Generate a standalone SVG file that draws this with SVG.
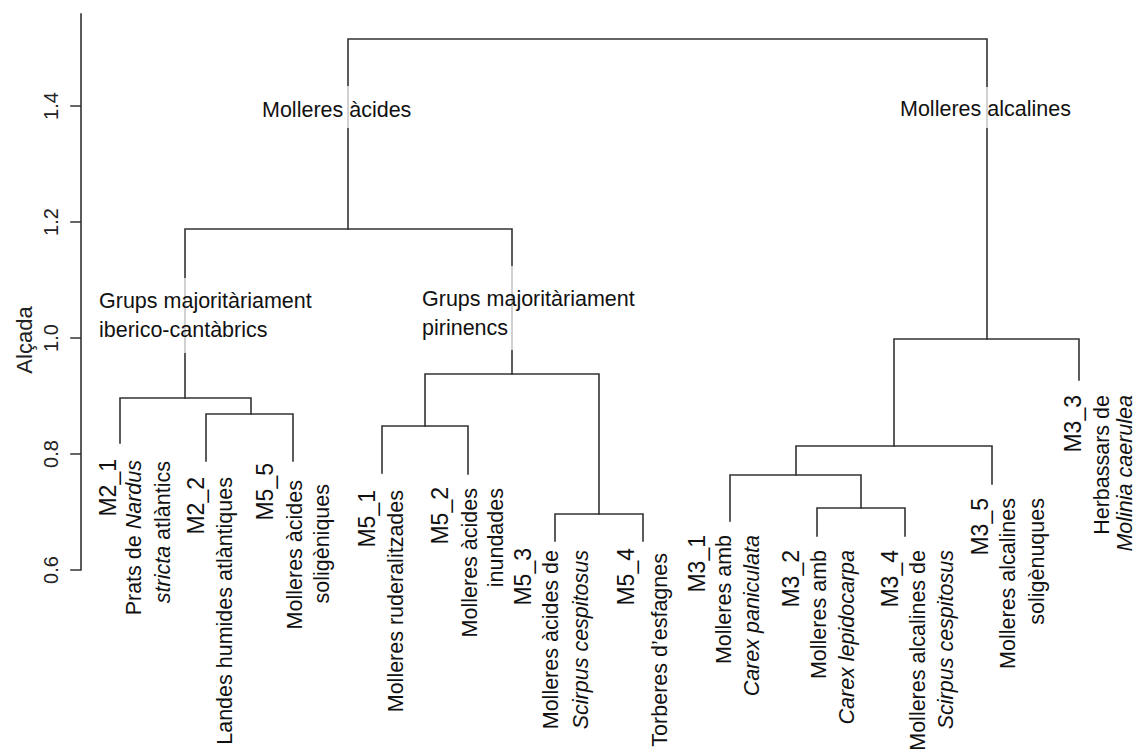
<svg xmlns="http://www.w3.org/2000/svg" width="1138" height="749" viewBox="0 0 1138 749">
<style>
.ln{fill:none;stroke:#333;stroke-width:1.6;stroke-linecap:square}
.ax{font-family:"Liberation Sans",Arial,sans-serif;font-size:20px;fill:#222}
.ylab{font-family:"Liberation Sans",Arial,sans-serif;font-size:22px;fill:#222}
.lab{font-family:"Liberation Sans",Arial,sans-serif;font-size:23px;fill:#111}
.desc{font-family:"Liberation Sans",Arial,sans-serif;font-size:21.5px;fill:#111}
.grp{font-family:"Liberation Sans",Arial,sans-serif;font-size:21.5px;fill:#111}
.bg{fill:#fff;fill-opacity:0.72}
.it{font-style:italic}
</style>
<rect width="1138" height="749" fill="#fff"/>
<g id="axis">
<path class="ln" d="M81,14 V570 M71,570 H81 M71,454 H81 M71,338 H81 M71,222 H81 M71,106 H81"/>
<text class="ax" text-anchor="middle" transform="translate(58,570) rotate(-90)">0.6</text>
<text class="ax" text-anchor="middle" transform="translate(58,454) rotate(-90)">0.8</text>
<text class="ax" text-anchor="middle" transform="translate(58,338) rotate(-90)">1.0</text>
<text class="ax" text-anchor="middle" transform="translate(58,222) rotate(-90)">1.2</text>
<text class="ax" text-anchor="middle" transform="translate(58,106) rotate(-90)">1.4</text>
<text class="ylab" text-anchor="middle" transform="translate(32,340) rotate(-90)">Alçada</text>
</g>
<g id="connectors">
<path class="ln" d="M348,229 V39 H987 V339"/>
<path class="ln" d="M185,398 V229 H512 V374"/>
<path class="ln" d="M120,443 V398 H251 V414"/>
<path class="ln" d="M206,461 V414 H293 V461"/>
<path class="ln" d="M425,426 V374 H599 V514"/>
<path class="ln" d="M382,473 V426 H468 V474"/>
<path class="ln" d="M555,541 V514 H643 V541"/>
<path class="ln" d="M894,446 V339 H1079 V380"/>
<path class="ln" d="M796,475 V446 H992 V484"/>
<path class="ln" d="M730,521 V475 H861 V508"/>
<path class="ln" d="M817,536 V508 H905 V536"/>
</g>
<g id="cluster-labels">
<rect class="bg" x="256" y="86" width="162" height="42"/>
<text class="grp" x="262" y="117">Molleres àcides</text>
<rect class="bg" x="894" y="87" width="186" height="41"/>
<text class="grp" x="900" y="116">Molleres alcalines</text>
<rect class="bg" x="93" y="278" width="236" height="75"/>
<text class="grp" x="99" y="308">Grups majoritàriament</text>
<text class="grp" x="99" y="337">iberico-cantàbrics</text>
<rect class="bg" x="416" y="266" width="236" height="84"/>
<text class="grp" x="422" y="306">Grups majoritàriament</text>
<text class="grp" x="422" y="335">pirinencs</text>
</g>
<g id="M2_1" text-anchor="end">
<text class="lab" transform="translate(116,459) rotate(-90)">M2_1</text>
<text class="desc" transform="translate(141,460) rotate(-90)">Prats de <tspan class="it">Nardus</tspan></text>
<text class="desc" transform="translate(170,461) rotate(-90)"><tspan class="it">stricta</tspan> atlàntics</text>
</g>
<g id="M2_2" text-anchor="end">
<text class="lab" transform="translate(204,477) rotate(-90)">M2_2</text>
<text class="desc" transform="translate(232,477) rotate(-90)">Landes humides atlàntiques</text>
</g>
<g id="M5_5" text-anchor="end">
<text class="lab" transform="translate(273,463) rotate(-90)">M5_5</text>
<text class="desc" transform="translate(302,480) rotate(-90)">Molleres àcides</text>
<text class="desc" transform="translate(329,484) rotate(-90)">soligèniques</text>
</g>
<g id="M5_1" text-anchor="end">
<text class="lab" transform="translate(375,490) rotate(-90)">M5_1</text>
<text class="desc" transform="translate(403,490) rotate(-90)">Molleres ruderalitzades</text>
</g>
<g id="M5_2" text-anchor="end">
<text class="lab" transform="translate(448,487) rotate(-90)">M5_2</text>
<text class="desc" transform="translate(477,488) rotate(-90)">Molleres àcides</text>
<text class="desc" transform="translate(503,488) rotate(-90)">inundades</text>
</g>
<g id="M5_3" text-anchor="end">
<text class="lab" transform="translate(531,548) rotate(-90)">M5_3</text>
<text class="desc" transform="translate(558,550) rotate(-90)">Molleres àcides de</text>
<text class="desc" transform="translate(588,550) rotate(-90)"><tspan class="it">Scirpus cespitosus</tspan></text>
</g>
<g id="M5_4" text-anchor="end">
<text class="lab" transform="translate(634,548) rotate(-90)">M5_4</text>
<text class="desc" transform="translate(667,553) rotate(-90)">Torberes d’esfagnes</text>
</g>
<g id="M3_1" text-anchor="end">
<text class="lab" transform="translate(705,535) rotate(-90)">M3_1</text>
<text class="desc" transform="translate(731,535) rotate(-90)">Molleres amb</text>
<text class="desc" transform="translate(759,535) rotate(-90)"><tspan class="it">Carex paniculata</tspan></text>
</g>
<g id="M3_2" text-anchor="end">
<text class="lab" transform="translate(799,550) rotate(-90)">M3_2</text>
<text class="desc" transform="translate(826,550) rotate(-90)">Molleres amb</text>
<text class="desc" transform="translate(854,550) rotate(-90)"><tspan class="it">Carex lepidocarpa</tspan></text>
</g>
<g id="M3_4" text-anchor="end">
<text class="lab" transform="translate(898,550) rotate(-90)">M3_4</text>
<text class="desc" transform="translate(925,550) rotate(-90)">Molleres alcalines de</text>
<text class="desc" transform="translate(953,550) rotate(-90)"><tspan class="it">Scirpus cespitosus</tspan></text>
</g>
<g id="M3_5" text-anchor="end">
<text class="lab" transform="translate(988,498) rotate(-90)">M3_5</text>
<text class="desc" transform="translate(1015,498) rotate(-90)">Molleres alcalines</text>
<text class="desc" transform="translate(1044,498) rotate(-90)">soligènuques</text>
</g>
<g id="M3_3" text-anchor="end">
<text class="lab" transform="translate(1081,395) rotate(-90)">M3_3</text>
<text class="desc" transform="translate(1109,395) rotate(-90)">Herbassars de</text>
<text class="desc" transform="translate(1132,395) rotate(-90)"><tspan class="it">Molinia caerulea</tspan></text>
</g>
</svg>
